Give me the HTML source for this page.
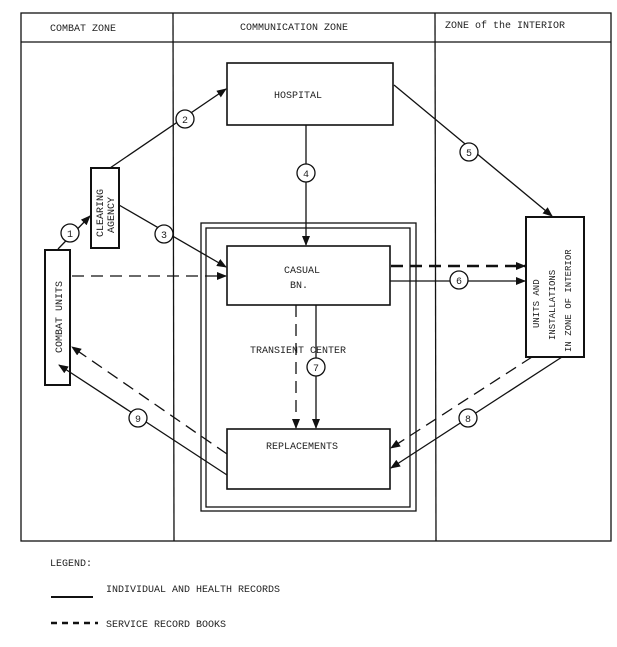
<!DOCTYPE html>
<html><head><style>
body{margin:0;background:#fff}
svg text{font-family:"Liberation Mono",monospace;font-size:10px;fill:#222}
</style></head><body>
<svg width="617" height="642" viewBox="0 0 617 642" xmlns="http://www.w3.org/2000/svg">
<defs><marker id="a" markerWidth="10" markerHeight="8" refX="9" refY="4" orient="auto" markerUnits="userSpaceOnUse"><path d="M0,0 L10,4 L0,8 z" fill="#111"/></marker></defs>
<g fill="none" stroke="#111" stroke-width="1.3">
<rect x="21" y="13" width="590" height="528"/>
<line x1="21" y1="42" x2="611" y2="42"/>
<line x1="173" y1="13" x2="174" y2="541"/>
<line x1="435" y1="13" x2="436" y2="541"/>
<rect x="227" y="63" width="166" height="62" stroke-width="1.6"/>
<rect x="91" y="168" width="28" height="80" stroke-width="2"/>
<rect x="45" y="250" width="25" height="135" stroke-width="2"/>
<rect x="526" y="217" width="58" height="140" stroke-width="2"/>
<rect x="201" y="223" width="215" height="288"/>
<rect x="206" y="228" width="204" height="279"/>
<rect x="227" y="246" width="163" height="59" stroke-width="1.6"/>
<rect x="227" y="429" width="163" height="60" stroke-width="1.6"/>
<g marker-end="url(#a)">
<line x1="58" y1="249" x2="90" y2="216"/>
<line x1="110" y1="168" x2="226" y2="89"/>
<line x1="119" y1="205" x2="226" y2="267"/>
<line x1="306" y1="125" x2="306" y2="245"/>
<line x1="394" y1="85" x2="552" y2="216"/>
<line x1="390" y1="281" x2="525" y2="281"/>
<line x1="316" y1="305" x2="316" y2="428"/>
<line x1="562" y1="357" x2="391" y2="468"/>
<line x1="227" y1="475" x2="59" y2="365"/>
</g>
<g stroke-dasharray="12,7" marker-end="url(#a)">
<line x1="72" y1="276" x2="226" y2="276"/>
<line x1="391" y1="266" x2="525" y2="266" stroke-width="2.5"/>
<line x1="296" y1="305" x2="296" y2="428"/>
<line x1="532" y1="357" x2="391" y2="448"/>
<line x1="227" y1="454" x2="72" y2="347"/>
</g>
</g>
<g fill="#fff" stroke="#111" stroke-width="1.3">
<circle cx="70" cy="233" r="9"/><circle cx="185" cy="119" r="9"/><circle cx="164" cy="234" r="9"/>
<circle cx="306" cy="173" r="9"/><circle cx="469" cy="152" r="9"/><circle cx="459" cy="280" r="9"/>
<circle cx="316" cy="367" r="9"/><circle cx="468" cy="418" r="9"/><circle cx="138" cy="418" r="9"/>
</g>
<g text-anchor="middle">
<text x="70" y="237">1</text><text x="185" y="123">2</text><text x="164" y="238">3</text>
<text x="306" y="177">4</text><text x="469" y="156">5</text><text x="459" y="284">6</text>
<text x="316" y="371">7</text><text x="468" y="422">8</text><text x="138" y="422">9</text>
</g>
<text x="50" y="31">COMBAT ZONE</text>
<text x="240" y="30">COMMUNICATION ZONE</text>
<text x="445" y="28">ZONE of the INTERIOR</text>
<text x="274" y="98">HOSPITAL</text>
<text x="284" y="273">CASUAL</text>
<text x="290" y="288">BN.</text>
<text x="250" y="353">TRANSIENT CENTER</text>
<text x="266" y="449">REPLACEMENTS</text>
<text transform="translate(103,237) rotate(-90)">CLEARING</text>
<text transform="translate(114,233) rotate(-90)">AGENCY</text>
<text transform="translate(62,353) rotate(-90)">COMBAT UNITS</text>
<g font-size="9">
<text transform="translate(539,328) rotate(-90)" style="font-size:9px">UNITS AND</text>
<text transform="translate(555,340) rotate(-90)" style="font-size:9px">INSTALLATIONS</text>
<text transform="translate(571,352) rotate(-90)" style="font-size:9px">IN ZONE OF INTERIOR</text>
</g>
<text x="50" y="566">LEGEND:</text>
<line x1="51" y1="597" x2="93" y2="597" stroke="#111" stroke-width="2"/>
<text x="106" y="592">INDIVIDUAL AND HEALTH RECORDS</text>
<line x1="51" y1="623" x2="98" y2="623" stroke="#111" stroke-width="2.5" stroke-dasharray="6,5"/>
<text x="106" y="627">SERVICE RECORD BOOKS</text>
</svg>
</body></html>
